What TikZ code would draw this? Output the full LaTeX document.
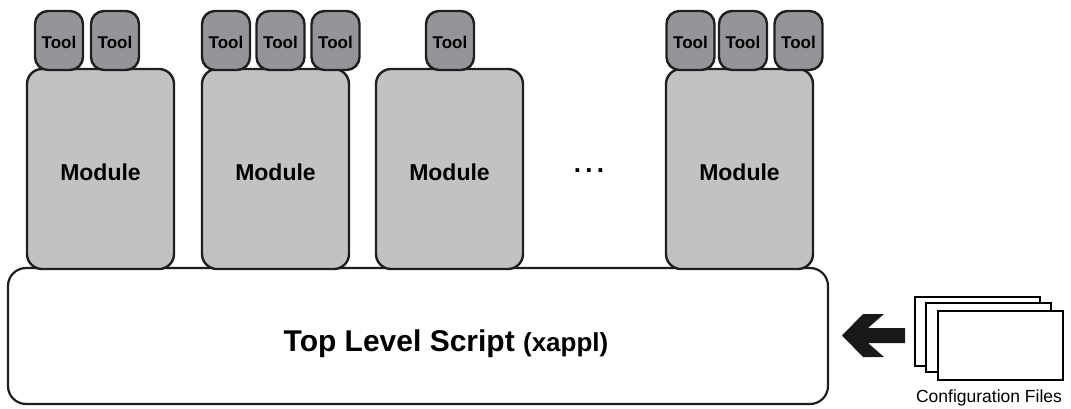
\documentclass[tikz,border=0pt]{standalone}
\usepackage{fontspec}
\setmainfont{Liberation Sans}
\begin{document}
\begin{tikzpicture}[x=1pt,y=-1pt,
  modbox/.style={draw=black!88,line width=2.4pt,rounded corners=15pt,fill=modfill,
    minimum width=147pt,minimum height=200pt,inner sep=0pt,
    text height=22pt,text depth=0pt,
    font=\bfseries\fontsize{23}{27}\selectfont},
  toolbox/.style={draw=black!88,line width=2.4pt,rounded corners=13pt,fill=toolfill,
    minimum width=48pt,minimum height=59pt,inner sep=0pt,
    text height=17pt,text depth=0pt,
    font=\bfseries\fontsize{17}{20}\selectfont},
  topbox/.style={draw=black!88,line width=2.2pt,rounded corners=18pt,fill=white,
    minimum width=820pt,minimum height=136pt,inner sep=0pt},
  cfgbox/.style={draw=black,line width=1.2pt,fill=white,
    minimum width=125pt,minimum height=69pt,inner sep=0pt},
  lbl/.style={inner sep=0pt}
]
\definecolor{modfill}{HTML}{C1C2C4}
\definecolor{toolfill}{HTML}{939598}
\useasboundingbox (0,0) rectangle (1071,409);

% top level script
\node[topbox] (top) at (418,336) {};
\node[lbl,font=\bfseries\fontsize{30}{34}\selectfont] (toptxt) at (446,344)
  {Top Level Script {\fontsize{26}{30}\selectfont(xappl)}};

% modules
\node[modbox] (m1) at (100.5,169) {Module};
\node[modbox] (m2) at (275.5,169) {Module};
\node[modbox] (m3) at (449.5,169) {Module};
\node[modbox] (m4) at (739.5,169) {Module};

% tools
\node[toolbox] (t11) at (59,40.5) {Tool};
\node[toolbox] (t12) at (115,40.5) {Tool};
\node[toolbox] (t21) at (226,40.5) {Tool};
\node[toolbox] (t22) at (280.5,40.5) {Tool};
\node[toolbox] (t23) at (335.5,40.5) {Tool};
\node[toolbox] (t31) at (450,40.5) {Tool};
\node[toolbox] (t41) at (690.5,40.5) {Tool};
\node[toolbox] (t42) at (743,40.5) {Tool};
\node[toolbox] (t43) at (798.5,40.5) {Tool};

% ellipsis
\node[lbl,font=\bfseries\fontsize{26}{30}\selectfont] (dots) at (589,171) {.\,.\,.};

% configuration files
\node[cfgbox] (c1) at (977.5,331.5) {};
\node[cfgbox] (c2) at (988.5,337.5) {};
\node[cfgbox] (c3) at (1000.5,345.5) {};
\node[lbl,font=\fontsize{17.5}{20}\selectfont] (cfgtxt) at (989,398) {Configuration Files};

% thick arrow
\fill[black!90] (842,335.5) -- (863,314) -- (884,314) -- (868,328) -- (905,328)
  -- (905,343) -- (868,343) -- (884,357) -- (863,357) -- cycle;
\end{tikzpicture}
\end{document}
